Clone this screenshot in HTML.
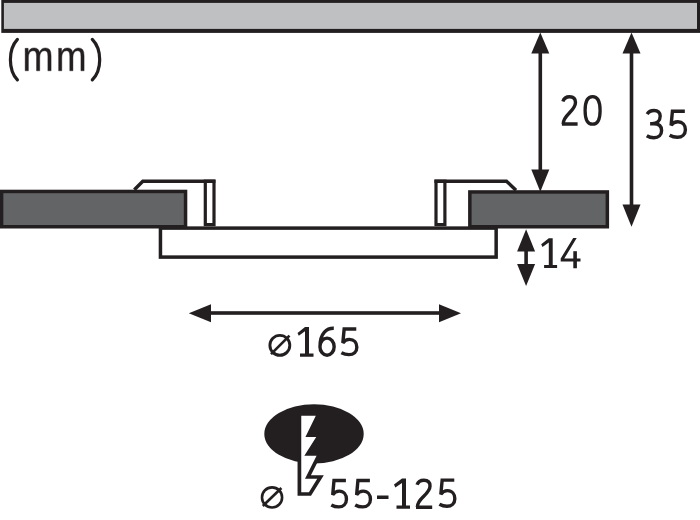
<!DOCTYPE html>
<html><head><meta charset="utf-8">
<style>
html,body{margin:0;padding:0;background:#fff;width:700px;height:520px;overflow:hidden}
svg{display:block}
text{font-family:"Liberation Sans",sans-serif;fill:#231f20}
</style></head>
<body>
<svg width="700" height="520" viewBox="0 0 700 520">
<g stroke="#231f20" fill="none">
  <!-- top ceiling bar -->
  <rect x="1.3" y="0" width="700" height="32.9" fill="#231f20" stroke="none"/><rect x="3.9" y="2.9" width="693.1" height="26" fill="#bfc0c2" stroke="none"/>
  <!-- plate -->
  <rect x="160.45" y="228.1" width="335.7" height="29" fill="#fff" stroke-width="3.5"/>
  <!-- left clip -->
  <path d="M134.3 189.7 L142.8 181.2 H215.4" stroke-width="3.4"/>
  <rect x="205.3" y="181.2" width="8.7" height="43.4" stroke-width="3.2"/>
  <!-- right clip -->
  <path d="M516 190.2 L506.5 181.2 H434.4" stroke-width="3.4"/>
  <rect x="436" y="181.2" width="8.9" height="43.4" stroke-width="3.2"/>
  <!-- dark ceiling parts -->
  <rect x="1.6" y="191.45" width="183.95" height="35.3" fill="#636466" stroke-width="3.5"/>
  <rect x="469.85" y="191.95" width="137.5" height="34.8" fill="#636466" stroke-width="3.5"/>
</g>
<g fill="#231f20" stroke="none">
  <!-- arrow 20 -->
  <rect x="538.5" y="52" width="3.6" height="119"/>
  <polygon points="540.3,32.5 549.3,53.6 531.3,53.6"/>
  <polygon points="531.3,169.4 549.3,169.4 540.3,191.7"/>
  <!-- arrow 35 -->
  <rect x="629.7" y="52" width="3.6" height="154"/>
  <polygon points="631.5,32.5 640.5,53.6 622.5,53.6"/>
  <polygon points="622.5,204.4 640.5,204.4 631.5,226.8"/>
  <!-- arrow 14 -->
  <rect x="524.3" y="250" width="3.6" height="15"/>
  <polygon points="526.1,229.3 535.1,251.4 517.1,251.4"/>
  <polygon points="517.1,264 535.1,264 526.1,286"/>
  <!-- arrow 165 -->
  <rect x="209" y="311.2" width="232" height="3.6"/>
  <polygon points="188.8,313.3 211,304.3 211,322.3"/>
  <polygon points="461,313.3 439,304.3 439,322.3"/>
  <!-- ellipse -->
  <ellipse cx="314" cy="433.9" rx="49.7" ry="29.6"/>
</g>
<!-- saw symbol -->
<path d="M299.4 413.8 H318.8 L308.4 435.1 H319.7 L307.7 454 H319.5 L308 477 H320.5 L310 494 H299.4 Z" fill="#fff" stroke="#231f20" stroke-width="3.7" stroke-linejoin="miter"/>
<!-- diameter symbols -->
<g stroke="#231f20" fill="none" stroke-width="2.8">
  <circle cx="279.85" cy="345.35" r="9.95" stroke-width="2.9"/>
  <line x1="271" y1="354.2" x2="289.5" y2="335.6" stroke-width="2.6"/>
  <circle cx="272.05" cy="497.4" r="10.05" stroke-width="2.6"/>
  <line x1="262.8" y1="506" x2="281.4" y2="488" stroke-width="2.6"/>
</g>
<g fill="#231f20" stroke="#231f20" stroke-width="0.4" stroke-linejoin="round"><path d="M36.52 70.8V56.54Q36.52 53.28 35.74 52.04Q34.96 50.79 32.93 50.79Q30.84 50.79 29.62 52.62Q28.41 54.45 28.41 57.77V70.8H25.16V53.12Q25.16 49.19 25.05 48.32H28.14Q28.15 48.42 28.17 48.88Q28.19 49.33 28.22 49.93Q28.24 50.52 28.28 52.16H28.34Q29.39 49.77 30.75 48.84Q32.11 47.9 34.07 47.9Q36.31 47.9 37.6 48.92Q38.9 49.94 39.41 52.16H39.46Q40.48 49.89 41.92 48.9Q43.37 47.9 45.42 47.9Q48.4 47.9 49.75 49.75Q51.1 51.6 51.1 55.82V70.8H47.87V56.54Q47.87 53.28 47.09 52.04Q46.31 50.79 44.27 50.79Q42.13 50.79 40.94 52.61Q39.75 54.43 39.75 57.77V70.8Z"/><path d="M69.77 70.8V56.54Q69.77 53.28 69.01 52.04Q68.24 50.79 66.24 50.79Q64.19 50.79 63 52.62Q61.8 54.45 61.8 57.77V70.8H58.61V53.12Q58.61 49.19 58.5 48.32H61.53Q61.55 48.42 61.57 48.88Q61.59 49.33 61.61 49.93Q61.64 50.52 61.68 52.16H61.73Q62.76 49.77 64.1 48.84Q65.44 47.9 67.37 47.9Q69.56 47.9 70.84 48.92Q72.11 49.94 72.61 52.16H72.66Q73.66 49.89 75.08 48.9Q76.5 47.9 78.52 47.9Q81.44 47.9 82.77 49.75Q84.1 51.6 84.1 55.82V70.8H80.92V56.54Q80.92 53.28 80.16 52.04Q79.39 50.79 77.39 50.79Q75.29 50.79 74.12 52.61Q72.95 54.43 72.95 57.77V70.8Z"/></g><g fill="#231f20"><path d="M548.8 238.2H552.7V265.0H557.1V268.1H544.1V265.0H548.8V242.5L542.5 247.0L541.2 244.2Z"/><path d="M573.2 238H576.7L564.3 258.5H580.5V261.6H576.9V268.3H573.3V261.6H560.7V258.5Z"/><path d="M573.3 251.2H576.9V259H573.3Z"/><path d="M305.0 327.0H309.0V353.6H313.5V356.7H300.0V353.6H305.0V331.3L298.8 335.8L297.5 333.0Z"/><path d="M377 495.5H388.5V499H377Z"/><path d="M402.0 478.6H406.0V505.6H410.0V508.7H396.5V505.6H402.0V482.90000000000003L395.3 487.40000000000003L394.0 484.6Z"/></g><path d="M17.4 39.4C8.07 49.5 8.07 69.8 17.4 79.9M92.3 39.4C102.17 49.5 102.17 69.8 92.3 79.9" fill="none" stroke="#231f20" stroke-width="3.2" stroke-linecap="round"/><g fill="none" stroke="#231f20" stroke-linejoin="miter"><path d="M 562.90 101.40 C 563.90 98.20 566.50 96.70 569.60 96.70 C 573.70 96.70 575.50 99.20 575.50 102.60 C 575.50 107.00 572.40 110.00 568.90 113.50 C 565.40 117.00 563.20 120.00 563.20 123.90 M 561.90 124.05 H 577.60" stroke-width="3.4"/><path d="M585.10 110.40C585.10 101.71 587.88 96.60 592.60 96.60C597.33 96.60 600.10 101.71 600.10 110.40C600.10 119.09 597.33 124.20 592.60 124.20C587.88 124.20 585.10 119.09 585.10 110.40Z" stroke-width="3.3"/><path d="M 647.20 114.10 C 648.60 111.60 651.10 110.50 654.10 110.50 C 658.00 110.50 660.20 112.80 660.20 116.10 C 660.20 120.40 657.10 123.70 652.10 123.70 H 650.10 M 652.10 123.70 H 654.00 C 659.00 123.70 661.60 126.40 661.60 130.60 C 661.60 135.00 658.50 137.80 653.90 137.80 C 651.20 137.80 648.80 137.10 646.80 135.80" stroke-width="3.4"/><path d="M 684.83 111.18 H 672.43 L 671.08 125.44 C 672.74 122.87 675.35 121.73 677.85 121.73 C 682.64 121.73 685.40 125.34 685.40 129.70 C 685.40 134.35 682.02 137.32 677.33 137.32 C 674.31 137.32 671.80 136.53 669.62 135.34" stroke-width="3.4"/><path d="M 333.80 328.20 C 327.20 328.00 320.00 332.60 320.00 346.65 M 319.95 346.65 A 7.10 8.55 0 1 0 334.15 346.65 A 7.10 8.55 0 1 0 319.95 346.65 Z" stroke-width="3.4"/><path d="M 356.27 329.05 H 344.16 L 342.83 343.03 C 344.46 340.50 347.01 339.39 349.45 339.39 C 354.13 339.39 356.83 342.93 356.83 347.20 C 356.83 351.76 353.52 354.67 348.94 354.67 C 345.99 354.67 343.54 353.89 341.41 352.73" stroke-width="3.4"/><path d="M 345.90 480.50 H 334.00 L 332.70 494.90 C 334.30 492.30 336.80 491.15 339.20 491.15 C 343.80 491.15 346.45 494.80 346.45 499.20 C 346.45 503.90 343.20 506.90 338.70 506.90 C 335.80 506.90 333.40 506.10 331.30 504.90" stroke-width="3.4"/><path d="M 369.89 480.50 H 357.92 L 356.61 494.90 C 358.22 492.30 360.74 491.15 363.15 491.15 C 367.78 491.15 370.44 494.80 370.44 499.20 C 370.44 503.90 367.17 506.90 362.65 506.90 C 359.73 506.90 357.31 506.10 355.20 504.90" stroke-width="3.4"/><path d="M 417.05 484.84 C 418.08 481.67 420.75 480.18 423.95 480.18 C 428.17 480.18 430.03 482.66 430.03 486.03 C 430.03 490.38 426.83 493.35 423.23 496.82 C 419.62 500.28 417.35 503.25 417.35 507.12 M 416.02 507.26 H 432.19" stroke-width="3.4"/><path d="M 454.27 480.09 H 442.16 L 440.83 494.39 C 442.46 491.81 445.01 490.67 447.45 490.67 C 452.13 490.67 454.83 494.30 454.83 498.67 C 454.83 503.34 451.52 506.32 446.94 506.32 C 443.99 506.32 441.54 505.52 439.41 504.33" stroke-width="3.4"/></g>
</svg>
</body></html>
